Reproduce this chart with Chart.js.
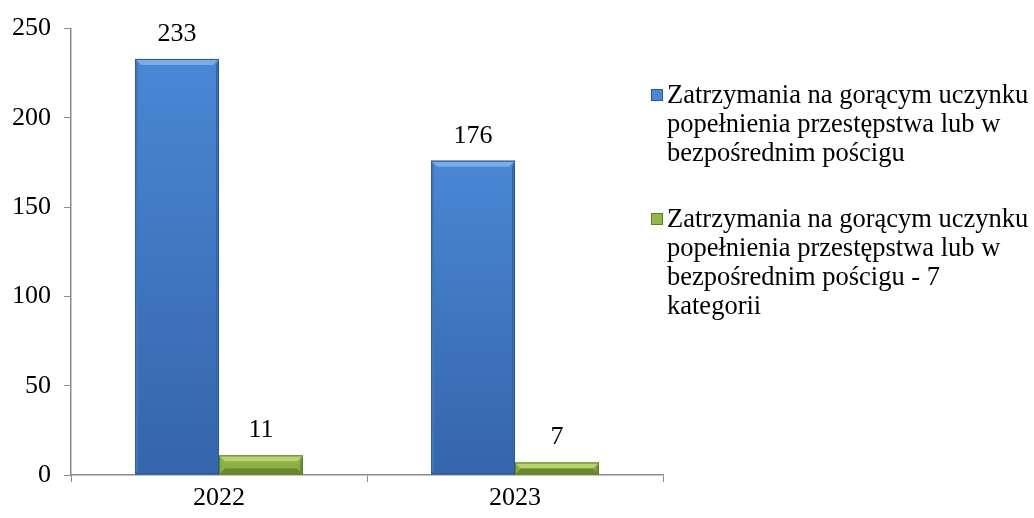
<!DOCTYPE html>
<html>
<head>
<meta charset="utf-8">
<script src="https://cdn.jsdelivr.net/npm/chart.js@4.4.0/dist/chart.umd.min.js"></script>
<style>
  body { margin: 0; background: #fff; }
  #wrap { position: relative; width: 1034px; height: 518px; }
  #legend {
    position: absolute; left: 651px; top: 80px; width: 382px;
    font-family: "Liberation Serif", "Times New Roman", serif;
    font-size: 26.5px; line-height: 29px; color: #000;
  }
  .legend-item { position: relative; padding-left: 16px; margin-bottom: 37px; }
  .legend-dot {
    position: absolute; left: 0; top: 9px; width: 10px; height: 10px;
    border: 1px solid; box-sizing: content-box;
  }
</style>
</head>
<body>
<div id="wrap">
  <canvas id="chart" width="1034" height="518"></canvas>
  <div id="legend"></div>
</div>
<script>
const years = ['2022', '2023'];
const arrests = [233, 176];
const arrestsCat7 = [11, 7];
const yTicks = [0, 50, 100, 150, 200, 250];
const seriesNames = [
    'Zatrzymania na gorącym uczynku popełnienia przestępstwa lub w bezpośrednim pościgu',
    'Zatrzymania na gorącym uczynku popełnienia przestępstwa lub w bezpośrednim pościgu - 7 kategorii'
];

const palette = {
    blue: { base: '#4a87d5', low: '#3565aa', top: '#7cabe8', left: '#3f78c4', right: '#3467ae', bottom: '#2f5c9c', edge: '#2c5898' },
    green: { base: '#93b84a', low: '#86a940', top: '#b6d470', left: '#88ab42', right: '#738f31', bottom: '#69872b', edge: '#627e28' }
};

const serif = '"Liberation Serif", "Times New Roman", serif';

// bevelled look on every bar plus the value written above it
const bevelBars = {
    id: 'bevelBars',
    afterDatasetsDraw(chart) {
        const ctx = chart.ctx;
        chart.data.datasets.forEach((ds, di) => {
            const pal = ds.pal;
            chart.getDatasetMeta(di).data.forEach((bar, i) => {
                const l = bar.x - bar.width / 2, r = bar.x + bar.width / 2;
                const t = bar.y, btm = bar.base;
                const b = Math.min(6, (btm - t) / 2);
                const poly = (pts, color) => {
                    ctx.beginPath();
                    ctx.moveTo(pts[0][0], pts[0][1]);
                    pts.slice(1).forEach(p => ctx.lineTo(p[0], p[1]));
                    ctx.closePath();
                    ctx.fillStyle = color;
                    ctx.fill();
                };
                ctx.save();
                const body = ctx.createLinearGradient(0, t, 0, btm);
                body.addColorStop(0, pal.base);
                body.addColorStop(1, pal.low);
                ctx.fillStyle = body;
                ctx.fillRect(l, t, r - l, btm - t);

                const s = Math.min(3, b);
                poly([[l, t], [r, t], [r - b, t + b], [l + b, t + b]], pal.top);
                poly([[l, t], [l + s, t + b], [l + s, btm - s], [l, btm]], pal.left);
                poly([[r, t], [r, btm], [r - s, btm - s], [r - s, t + b]], pal.right);
                if (btm - t < 40) {
                    poly([[l, btm], [l + b, btm - b], [r - b, btm - b], [r, btm]], pal.bottom);
                }
                ctx.strokeStyle = pal.edge;
                ctx.lineWidth = 1;
                ctx.strokeRect(l + 0.5, t + 0.5, r - l - 1, btm - t - 1);

                ctx.fillStyle = '#000';
                ctx.font = '26px ' + serif;
                ctx.textAlign = 'center';
                ctx.textBaseline = 'bottom';
                ctx.fillText(String(ds.data[i]), bar.x, t - 12);
                ctx.restore();
            });
        });
    }
};

const chart = new Chart(document.getElementById('chart'), {
    type: 'bar',
    data: {
        labels: years,
        datasets: [
            { label: seriesNames[0], data: arrests, backgroundColor: palette.blue.base, pal: palette.blue },
            { label: seriesNames[1], data: arrestsCat7, backgroundColor: palette.green.base, pal: palette.green }
        ]
    },
    options: {
        responsive: false,
        animation: false,
        layout: { padding: { top: 17, right: 371, bottom: 0, left: 0 } },
        datasets: { bar: { categoryPercentage: 0.567, barPercentage: 1.0, borderWidth: 0 } },
        plugins: { legend: { display: false }, tooltip: { enabled: false } },
        scales: {
            x: {
                grid: { offset: true, drawOnChartArea: false, drawTicks: true, tickLength: 7, color: '#8c8c8c' },
                border: { color: '#8c8c8c', width: 1.5 },
                ticks: { color: '#000', font: { family: serif, size: 26 }, padding: 1 },
                afterFit(scale) { scale.height = 43; }
            },
            y: {
                min: 0,
                max: 250,
                afterBuildTicks(scale) { scale.ticks = yTicks.map(v => ({ value: v })); },
                grid: { drawOnChartArea: false, drawTicks: true, tickLength: 7, color: '#8c8c8c' },
                border: { color: '#8c8c8c', width: 1.5 },
                ticks: { color: '#000', font: { family: serif, size: 26 }, padding: 13 },
                afterFit(scale) { scale.width = 71; }
            }
        }
    },
    plugins: [bevelBars]
});

// legend with wrapped labels next to the plot
document.getElementById('legend').innerHTML = chart.data.datasets.map(ds => `
    <div class="legend-item">
        <span class="legend-dot" style="background:${ds.pal.base};border-color:${ds.pal.edge}"></span>${ds.label}
    </div>`).join('');
</script>
</body>
</html>
